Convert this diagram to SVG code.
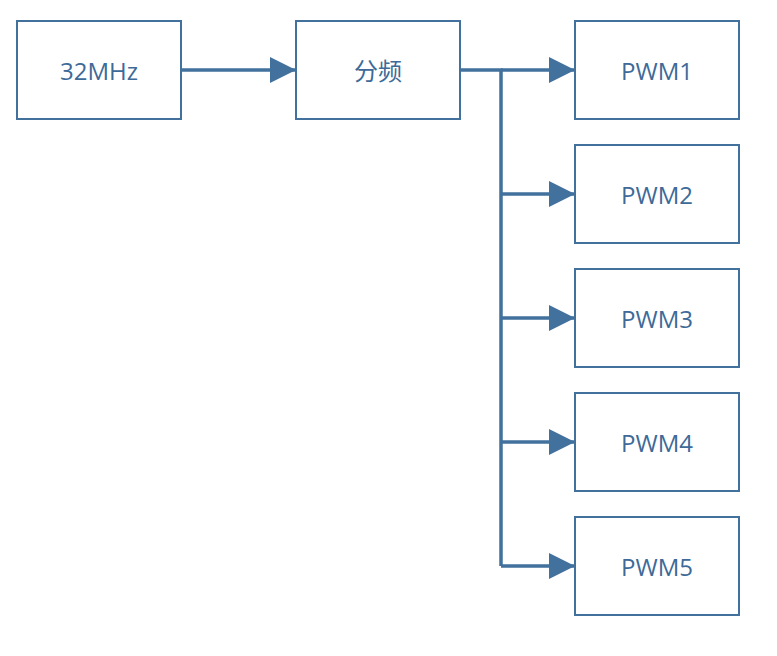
<svg xmlns="http://www.w3.org/2000/svg" width="777" height="656" viewBox="0 0 777 656">
<style>
.b{fill:#fff;stroke:#41719c;stroke-width:2}
.t{font-family:"Open Sans","Noto Sans CJK SC",sans-serif;font-size:24px;fill:#3d6a98;text-anchor:middle;dominant-baseline:central}
.c{stroke:#41719c;stroke-width:3.5;fill:none}
</style>
<defs><marker id="a" markerUnits="userSpaceOnUse" markerWidth="28" markerHeight="26" refX="26" refY="13" orient="auto"><path d="M0,0 L26,13 L0,26 Z" fill="#41719c"/></marker></defs>
<rect width="777" height="656" fill="#fff"/>
<g id="connectors">
<path class="c" d="M181,70 H296" marker-end="url(#a)"/>
<path class="c" d="M460,70 H501 V566"/>
<path class="c" d="M501,70 H575" marker-end="url(#a)"/>
<path class="c" d="M501,194 H575" marker-end="url(#a)"/>
<path class="c" d="M501,318 H575" marker-end="url(#a)"/>
<path class="c" d="M501,442 H575" marker-end="url(#a)"/>
<path class="c" d="M501,566 H575" marker-end="url(#a)"/>
</g>
<g id="n32"><rect class="b" x="17" y="21" width="164" height="98"/><text class="t" x="99" y="70">32MHz</text></g>
<g id="div"><rect class="b" x="296" y="21" width="164" height="98"/><text class="t" x="378" y="70">分频</text></g>
<g id="p1"><rect class="b" x="575" y="21" width="164" height="98"/><text class="t" x="657" y="70">PWM1</text></g>
<g id="p2"><rect class="b" x="575" y="145" width="164" height="98"/><text class="t" x="657" y="194">PWM2</text></g>
<g id="p3"><rect class="b" x="575" y="269" width="164" height="98"/><text class="t" x="657" y="318">PWM3</text></g>
<g id="p4"><rect class="b" x="575" y="393" width="164" height="98"/><text class="t" x="657" y="442">PWM4</text></g>
<g id="p5"><rect class="b" x="575" y="517" width="164" height="98"/><text class="t" x="657" y="566">PWM5</text></g>
</svg>
